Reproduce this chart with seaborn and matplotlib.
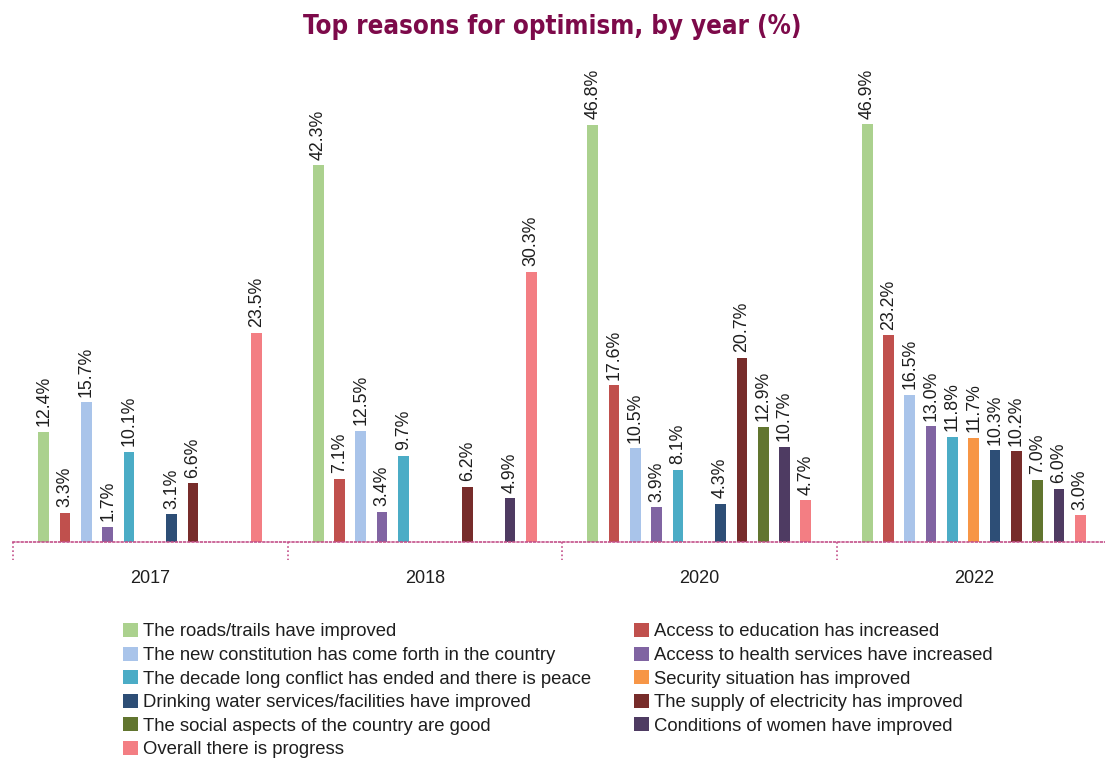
import numpy as np
import pandas as pd
import seaborn as sns
import matplotlib.pyplot as plt
from matplotlib.patches import Patch

# ---- data -------------------------------------------------------------
years = ["2017", "2018", "2020", "2022"]
reasons = [
    "The roads/trails have improved",
    "Access to education has increased",
    "The new constitution has come forth in the country",
    "Access to health services have increased",
    "The decade long conflict has ended and there is peace",
    "Security situation has improved",
    "Drinking water services/facilities have improved",
    "The supply of electricity has improved",
    "The social aspects of the country are good",
    "Conditions of women have improved",
    "Overall there is progress",
]
nan = np.nan
values_2017 = [12.4, 3.3, 15.7, 1.7, 10.1, nan, 3.1, 6.6, nan, nan, 23.5]
values_2018 = [42.3, 7.1, 12.5, 3.4, 9.7, nan, nan, 6.2, nan, 4.9, 30.3]
values_2020 = [46.8, 17.6, 10.5, 3.9, 8.1, nan, 4.3, 20.7, 12.9, 10.7, 4.7]
values_2022 = [46.9, 23.2, 16.5, 13.0, 11.8, 11.7, 10.3, 10.2, 7.0, 6.0, 3.0]

colors = [
    "#ABD18E", "#C0504D", "#A9C4EA", "#8064A2", "#4BACC6", "#F79646",
    "#2D4E76", "#772C2A", "#61752F", "#4E3B62", "#F37E83",
]

# ---- long-form table --------------------------------------------------
rows = []
for yr, vals in zip(years, [values_2017, values_2018, values_2020, values_2022]):
    for reason, v in zip(reasons, vals):
        rows.append({"year": yr, "reason": reason, "pct": v})
df = pd.DataFrame(rows).dropna()

# ---- style ------------------------------------------------------------
sns.set_theme(style="white")
plt.rcParams["font.family"] = ["Liberation Sans", "DejaVu Sans"]

TITLE_COLOR = "#7D0A4A"
AXIS_COLOR = "#C4508A"
TEXT_COLOR = "#1E1E1E"

fig = plt.figure(figsize=(11.05, 7.61), dpi=100)
ax = fig.add_axes([13 / 1105, (761 - 542) / 761, (1111 - 13) / 1105, 499 / 761])

sns.barplot(
    data=df, x="year", y="pct", hue="reason",
    order=years, hue_order=reasons, palette=colors, saturation=1,
    width=0.854, gap=0.5, dodge=True, errorbar=None,
    linewidth=0, legend=False, ax=ax,
)

ax.set_xlim(-0.5, 3.5)
ax.set_ylim(0, 56)

# value labels on top of each bar
for cont in ax.containers:
    ax.bar_label(cont, fmt="{:.1f}%", rotation=90, padding=4,
                 fontsize=12.8, color=TEXT_COLOR)

# axes cosmetics
for side in ["left", "right", "top"]:
    ax.spines[side].set_visible(False)
ax.spines["bottom"].set_color(AXIS_COLOR)
ax.spines["bottom"].set_linestyle((0, (1, 1.5)))
ax.spines["bottom"].set_linewidth(1.2)
ax.set_yticks([])
ax.set_xlabel("")
ax.set_ylabel("")
ax.tick_params(axis="x", length=0, pad=20, labelsize=13, labelcolor=TEXT_COLOR)

# dotted separators between year groups
trans = ax.get_xaxis_transform()
for b in np.arange(-0.5, len(years), 1.0):
    ax.plot([b, b], [0, -0.036], transform=trans, color=AXIS_COLOR,
            linestyle=(0, (1, 1.5)), linewidth=1.2, clip_on=False)

# title
fig.text(0.5, (761 - 27) / 761, "Top reasons for optimism, by year (%)",
         ha="center", va="center", fontsize=18.5, fontweight="bold",
         fontstretch="condensed", color=TITLE_COLOR, family="DejaVu Sans")

# legend in two columns, filled row by row
handles = [Patch(facecolor=c, edgecolor="none") for c in colors]
leg_kw = dict(frameon=False, fontsize=13.3, handlelength=0.8, handleheight=0.8,
              handletextpad=0.3, labelspacing=0.33, borderpad=0,
              borderaxespad=0, loc="upper left", labelcolor=TEXT_COLOR)
left_idx = [0, 2, 4, 6, 8, 10]
right_idx = [1, 3, 5, 7, 9]
top = (761 - 623) / 761
leg1 = ax.legend([handles[i] for i in left_idx], [reasons[i] for i in left_idx],
                 bbox_to_anchor=(123 / 1105, top),
                 bbox_transform=fig.transFigure, **leg_kw)
ax.add_artist(leg1)
ax.legend([handles[i] for i in right_idx], [reasons[i] for i in right_idx],
          bbox_to_anchor=(634 / 1105, top),
          bbox_transform=fig.transFigure, **leg_kw)

fig.savefig("out.png", dpi=100)
